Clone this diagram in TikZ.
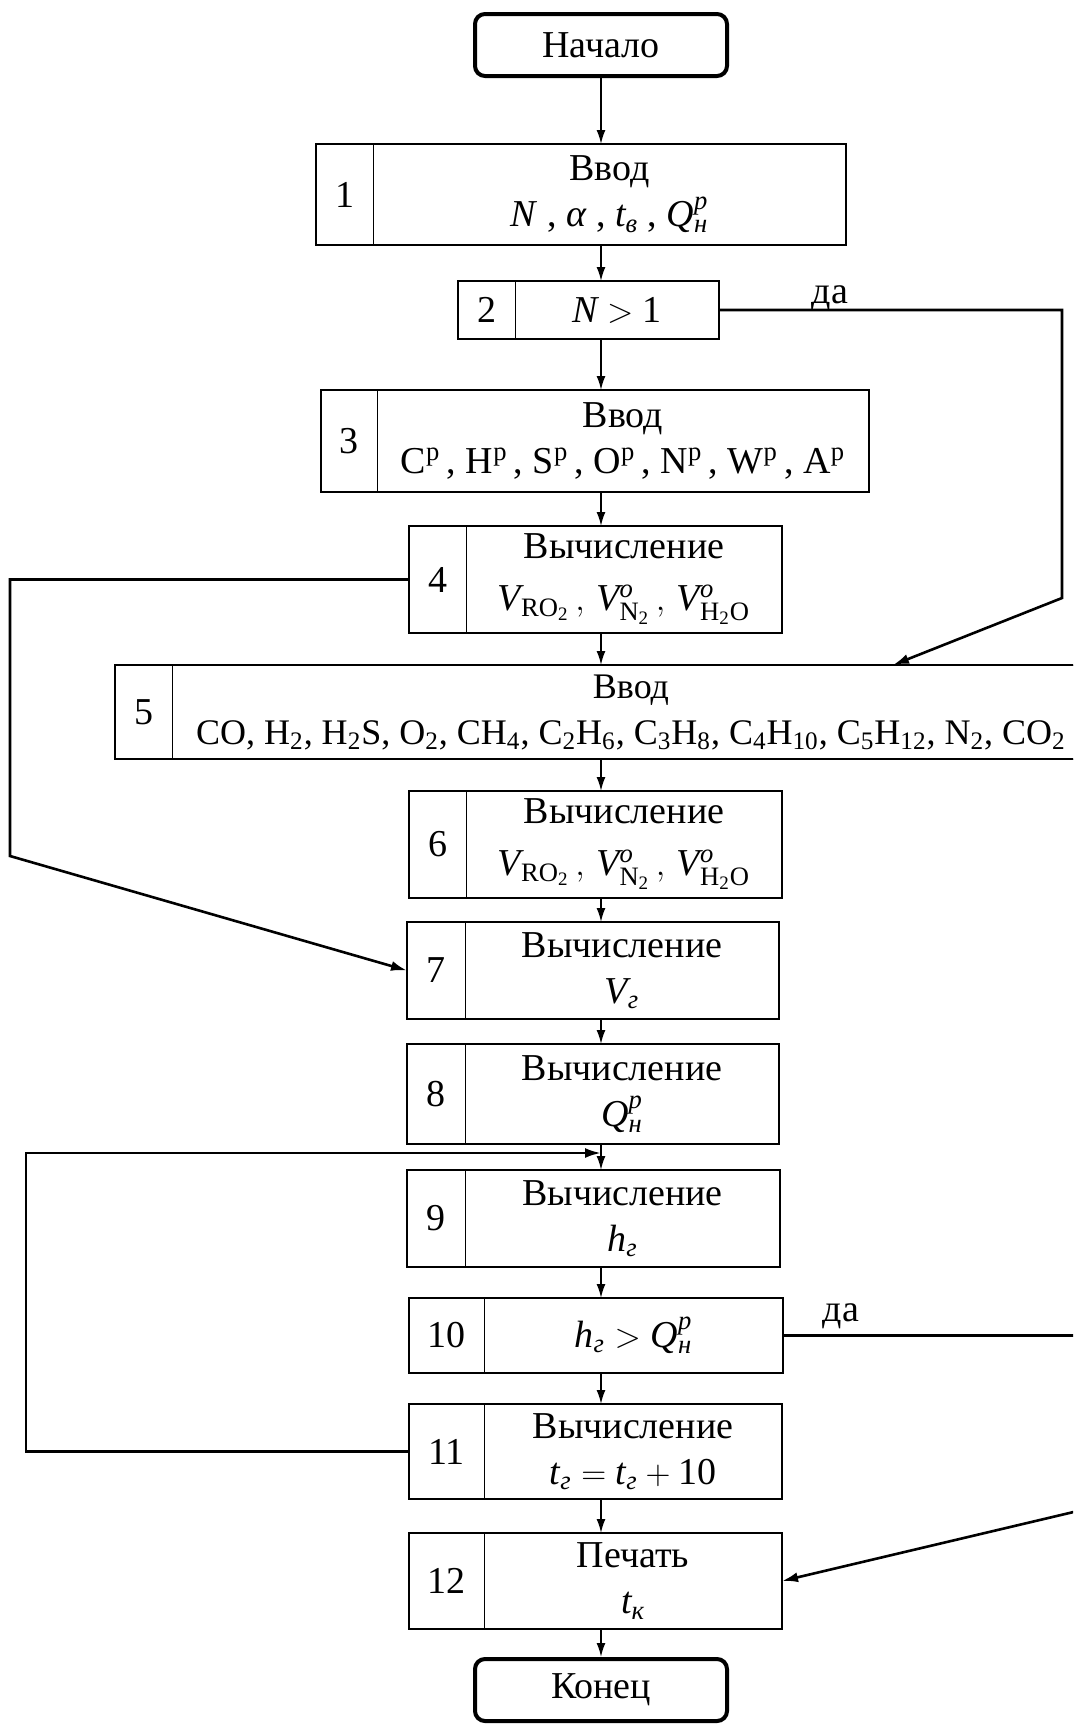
\documentclass[tikz,border=0pt]{standalone}
\usepackage{amsmath}
\usepackage{fontspec}
\setmainfont{Liberation Serif}
\usetikzlibrary{arrows.meta,positioning}

\newcommand{\Qnp}{\ensuremath{\textit{Q}^{\textit{p}}_{\textit{н}}}}
\newcommand{\Vset}{\ensuremath{\textit{V}_{\text{RO}_{\text{2}}}\,,\, \textit{V}^{\textit{o}}_{\text{N}_{\text{2}}}\,,\, \textit{V}^{\textit{o}}_{\text{H}_{\text{2}}\text{O}}}}

\begin{document}
\begin{tikzpicture}[
    x=0.5pt, y=-0.5pt,
    font=\fontsize{19}{23}\selectfont,
    term/.style={draw, rounded corners=5pt, line width=2pt, minimum width=126pt, minimum height=31pt},
    num/.style={draw, line width=0.5pt, anchor=west, inner sep=0pt, outer sep=0pt},
    cell/.style={draw, line width=0.5pt, inner sep=0pt, outer sep=0pt, align=center},
    frame/.style={line width=1.1pt},
    arrow/.style={-{Latex[length=7pt,width=4.5pt]}, line width=0.9pt},
    branch/.style={-{Latex[length=8pt,width=5pt]}, line width=1.3pt}
]
\clip (0,0) rectangle (1073,1724);

% start / end
\node[term] (start) at (601,45) {Начало};
\node[term] (end) at (601,1690) {Конец};

% numbered blocks
\node[num, minimum width=28.5pt, minimum height=50.5pt] (n1) at (316,194.5) {1};
\node[cell, right=0pt of n1, minimum width=236.5pt, minimum height=50.5pt] (b1) {Ввод\\\textit{N} , \textit{α} , $\textit{t}_{\textit{в}}$ , \Qnp};

\node[num, minimum width=28.5pt, minimum height=29pt] (n2) at (458,310) {2};
\node[cell, right=0pt of n2, minimum width=102pt, minimum height=29pt] (b2) {$\textit{N} > \text{1}$};

\node[num, minimum width=28pt, minimum height=51pt] (n3) at (321,441) {3};
\node[cell, right=0pt of n3, minimum width=246pt, minimum height=51pt] (b3) {Ввод\\C\textsuperscript{р}\,, H\textsuperscript{р}\,, S\textsuperscript{р}\,, O\textsuperscript{р}\,, N\textsuperscript{р}\,, W\textsuperscript{р}\,, A\textsuperscript{р}};

\node[num, minimum width=28.5pt, minimum height=53.5pt] (n4) at (409,579.5) {4};
\node[cell, right=0pt of n4, minimum width=158pt, minimum height=53.5pt] (b4) {Вычисление\\[3pt]\Vset};

\node[num, minimum width=28.5pt, minimum height=47pt] (n5) at (115,712) {5};
\node[cell, right=0pt of n5, minimum width=459pt, minimum height=47pt, font=\fontsize{18}{23}\selectfont] (b5) {Ввод\\CO, H\textsubscript{2}, H\textsubscript{2}S, O\textsubscript{2}, CH\textsubscript{4}, C\textsubscript{2}H\textsubscript{6}, C\textsubscript{3}H\textsubscript{8}, C\textsubscript{4}H\textsubscript{10}, C\textsubscript{5}H\textsubscript{12}, N\textsubscript{2}, CO\textsubscript{2}};

\node[num, minimum width=28.5pt, minimum height=53.5pt] (n6) at (409,844.5) {6};
\node[cell, right=0pt of n6, minimum width=158pt, minimum height=53.5pt] (b6) {Вычисление\\[3pt]\Vset};

\node[num, minimum width=29pt, minimum height=48.5pt] (n7) at (407,970.5) {7};
\node[cell, right=0pt of n7, minimum width=157pt, minimum height=48.5pt] (b7) {Вычисление\\$\textit{V}_{\textit{г}}$};

\node[num, minimum width=29pt, minimum height=50pt] (n8) at (407,1094) {8};
\node[cell, right=0pt of n8, minimum width=157pt, minimum height=50pt] (b8) {Вычисление\\\Qnp};

\node[num, minimum width=29pt, minimum height=48.5pt] (n9) at (407,1218.5) {9};
\node[cell, right=0pt of n9, minimum width=157.5pt, minimum height=48.5pt] (b9) {Вычисление\\$\textit{h}_{\textit{г}}$};

\node[num, minimum width=37.5pt, minimum height=37.5pt] (n10) at (409,1335.5) {10};
\node[cell, right=0pt of n10, minimum width=149.5pt, minimum height=37.5pt] (b10) {$\textit{h}_{\textit{г}} > \Qnp$};

\node[num, minimum width=37.5pt, minimum height=47.5pt] (n11) at (409,1451.5) {11};
\node[cell, right=0pt of n11, minimum width=149pt, minimum height=47.5pt] (b11) {Вычисление\\$\textit{t}_{\textit{г}} = \textit{t}_{\textit{г}} + \text{10}$};

\node[num, minimum width=37.5pt, minimum height=48pt] (n12) at (409,1581) {12};
\node[cell, right=0pt of n12, minimum width=149pt, minimum height=48pt] (b12) {Печать\\$\textit{t}_{\textit{к}}$};

% outer frames
\draw[frame] (n1.north west) rectangle (b1.south east);
\draw[frame] (n2.north west) rectangle (b2.south east);
\draw[frame] (n3.north west) rectangle (b3.south east);
\draw[frame] (n4.north west) rectangle (b4.south east);
\draw[frame] (n5.north west) rectangle (b5.south east);
\draw[frame] (n6.north west) rectangle (b6.south east);
\draw[frame] (n7.north west) rectangle (b7.south east);
\draw[frame] (n8.north west) rectangle (b8.south east);
\draw[frame] (n9.north west) rectangle (b9.south east);
\draw[frame] (n10.north west) rectangle (b10.south east);
\draw[frame] (n11.north west) rectangle (b11.south east);
\draw[frame] (n12.north west) rectangle (b12.south east);

% main flow
\draw[arrow] (start) -- (start |- b1.north);
\draw[arrow] (b1.south -| start) -- (b2.north -| start);
\draw[arrow] (b2.south -| start) -- (b3.north -| start);
\draw[arrow] (b3.south -| start) -- (b4.north -| start);
\draw[arrow] (b4.south -| start) -- (b5.north -| start);
\draw[arrow] (b5.south -| start) -- (b6.north -| start);
\draw[arrow] (b6.south -| start) -- (b7.north -| start);
\draw[arrow] (b7.south -| start) -- (b8.north -| start);
\draw[arrow] (b8.south -| start) -- (b9.north -| start);
\draw[arrow] (b9.south -| start) -- (b10.north -| start);
\draw[arrow] (b10.south -| start) -- (b11.north -| start);
\draw[arrow] (b11.south -| start) -- (b12.north -| start);
\draw[arrow] (b12.south -| start) -- (end);

% branches
\coordinate (r1) at (1062,598);
\coordinate (r2) at (893,0);
\coordinate (l1) at (10,856);
\coordinate (r3) at (1082,1510);
\coordinate (l2) at (26,1153);

\draw[branch] (b2.east) -| (r1) -- (r2 |- b5.north);
\node (yes1) at (830,298) {да};
\draw[branch] (n4.west) -| (l1) -- (n7.west);
\draw[branch] (b10.east) -| (r3) -- (b12.east);
\node (yes2) at (841,1316) {да};
\draw[branch] (n11.west) -| (l2) -- (l2 -| start);
\end{tikzpicture}
\end{document}
